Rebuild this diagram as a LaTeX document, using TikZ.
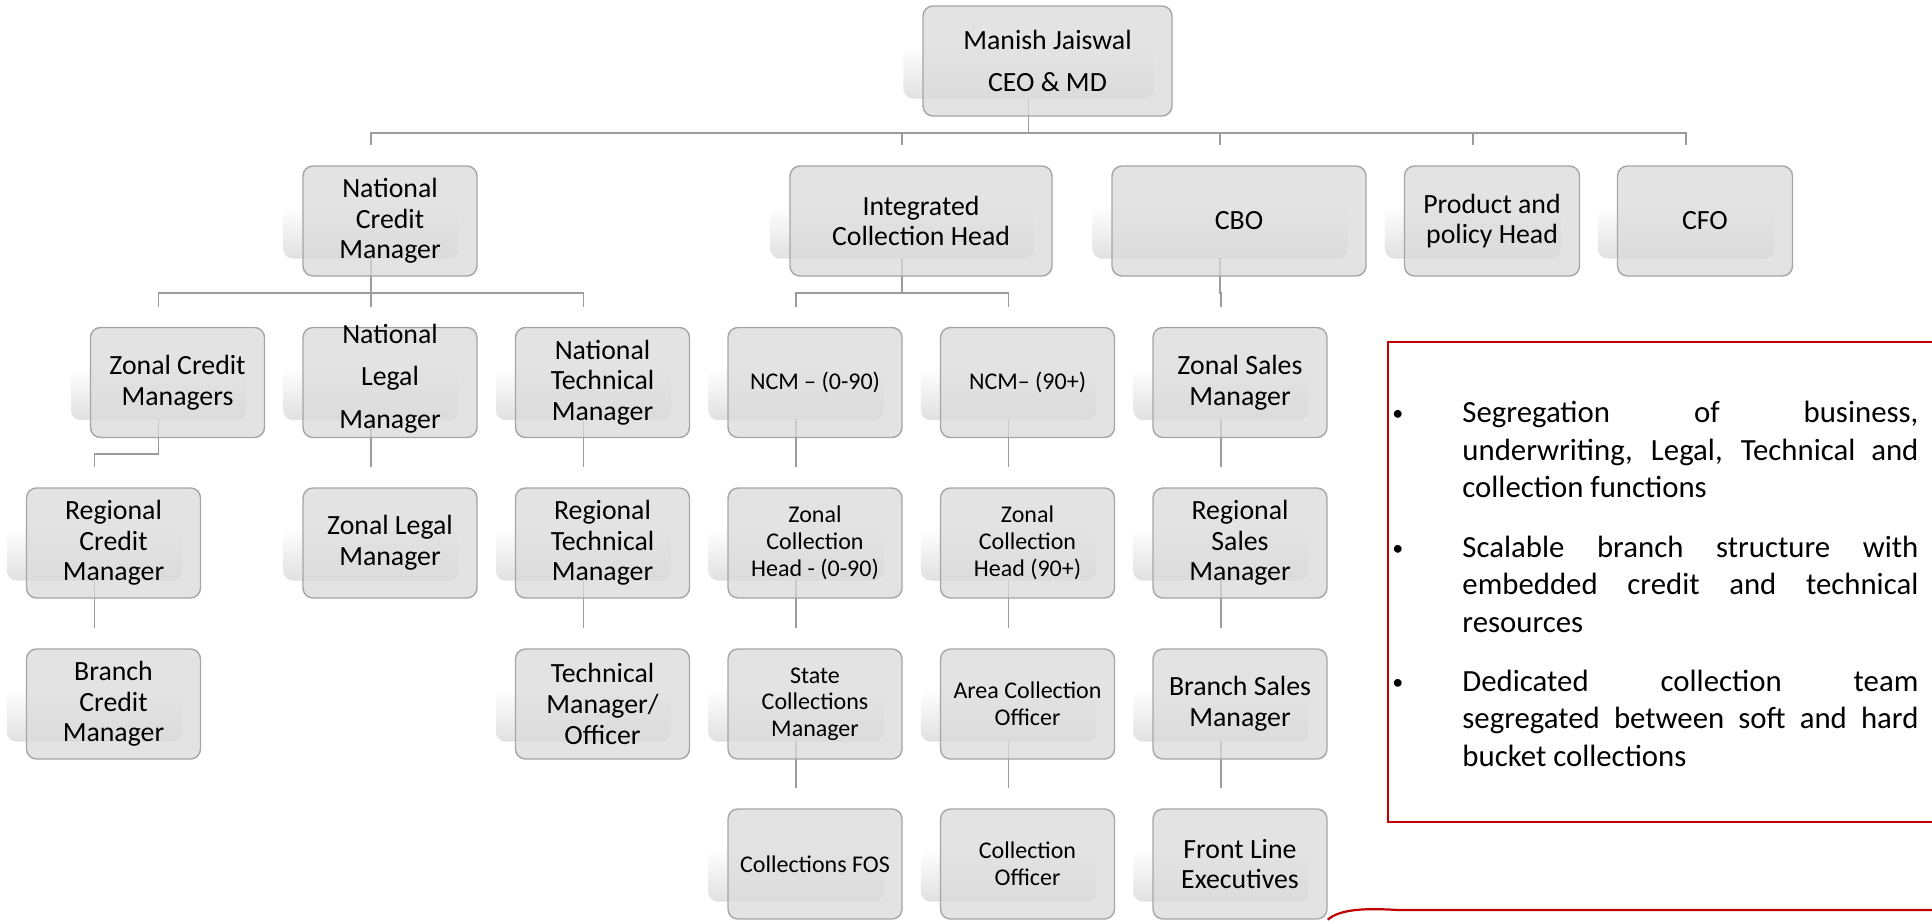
\documentclass[tikz,border=0pt]{standalone}
\usepackage{fontspec}
\setmainfont{Carlito}
\usetikzlibrary{calc}
\pgfdeclarelayer{bg}
\pgfsetlayers{bg,main}
\definecolor{boxfill}{HTML}{DADADA}
\definecolor{boxline}{HTML}{A5A5A5}
\definecolor{connline}{HTML}{9C9C9C}
\definecolor{redline}{HTML}{C00000}
\tikzset{
  orgbox/.style={draw=boxline, line width=0.7pt, fill=boxfill, fill opacity=0.75, text opacity=1,
    rounded corners=5pt, minimum width=87pt, minimum height=55pt, inner sep=1pt, align=center,
    font=\fontsize{13.9}{15.35}\selectfont},
  smalltext/.style={font=\fontsize{12}{13.35}\selectfont},
  conn/.style={draw=connline, line width=0.8pt},
  shadowbox/.style={top color=white, bottom color=black!12, rounded corners=5pt, draw=none},
  redframe/.style={draw=redline, line width=1.1pt},
}
\newcommand\orgshadow[1]{\shade[shadowbox] ($(#1.north west)+(-19,41)$) rectangle ($(#1.south east)+(-19,-18)$);}
\newcommand\orgedge[2]{\draw[conn] ($(#1.south)+(-19,-19)$) -- ($(#1.south)+(-19,16)$) -| ($(#2.north)+(-19,-20)$);}
\newcommand\notebullet{\leavevmode\llap{\makebox[35pt][l]{\fontsize{11}{11}\selectfont\raisebox{1pt}{•}}}}
\begin{document}
\begin{tikzpicture}[x=0.5pt, y=-0.5pt]
\useasboundingbox (0,0) rectangle (1932,921);
\clip (0,0) rectangle (1932,921);
% row 0
\node[orgbox, minimum width=124.5pt, font=\fontsize{13.9}{20.85}\selectfont] (ceo) at (1047.5,61) {Manish Jaiswal\\CEO \& MD};
% row 1
\node[orgbox] (ncm) at (390,221) {National\\Credit\\Manager};
\node[orgbox, minimum width=131pt] (ich) at (921,221) {Integrated\\Collection Head};
\node[orgbox, minimum width=127pt] (cbo) at (1239,221) {CBO};
\node[orgbox, minimum width=87.5pt] (pph) at (1492,221) {Product and\\policy Head};
\node[orgbox, minimum width=87.5pt] (cfo) at (1705,221) {CFO};
% row 2
\node[orgbox] (zcm) at (177.5,382.5) {Zonal Credit\\Managers};
\node[orgbox] (nlm) at (390,382.5) {\raisebox{-3pt}{\smash{\parbox[c]{80pt}{\centering\fontsize{13.9}{21.25}\selectfont National\\Legal\\Manager}}}};
\node[orgbox] (ntm) at (602.5,382.5) {National\\Technical\\Manager};
\node[orgbox, smalltext] (nc0) at (815,382.5) {NCM – (0-90)};
\node[orgbox, smalltext] (nc9) at (1027.5,382.5) {NCM– (90+)};
\node[orgbox] (zsm) at (1240,382.5) {Zonal Sales\\Manager};
% row 3
\node[orgbox] (rcm) at (113.5,543) {Regional\\Credit\\Manager};
\node[orgbox] (zlm) at (390,543) {Zonal Legal\\Manager};
\node[orgbox] (rtm) at (602.5,543) {Regional\\Technical\\Manager};
\node[orgbox, smalltext] (zc0) at (815,543) {Zonal\\Collection\\Head - (0-90)};
\node[orgbox, smalltext] (zc9) at (1027.5,543) {Zonal\\Collection\\Head (90+)};
\node[orgbox] (rsm) at (1240,543) {Regional\\Sales\\Manager};
% row 4
\node[orgbox] (bcm) at (113.5,704) {Branch\\Credit\\Manager};
\node[orgbox] (tmo) at (602.5,704) {Technical\\Manager/\\Officer};
\node[orgbox, smalltext] (scm) at (815,704) {State\\Collections\\Manager};
\node[orgbox, smalltext] (aco) at (1027.5,704) {Area Collection\\Officer};
\node[orgbox] (bsm) at (1240,704) {Branch Sales\\Manager};
% row 5
\node[orgbox, smalltext] (fos) at (815,864) {Collections FOS};
\node[orgbox, smalltext] (col) at (1027.5,864) {Collection\\Officer};
\node[orgbox] (fle) at (1240,864) {Front Line\\Executives};

\begin{pgfonlayer}{bg}
  \foreach \n in {ceo,ncm,ich,cbo,pph,cfo,zcm,nlm,ntm,nc0,nc9,zsm,rcm,zlm,rtm,zc0,zc9,rsm,bcm,tmo,scm,aco,bsm,fos,col,fle}
    {\orgshadow{\n}}
  \foreach \c in {ncm,ich,cbo,pph,cfo} {\orgedge{ceo}{\c}}
  \foreach \c in {zcm,nlm,ntm} {\orgedge{ncm}{\c}}
  \foreach \c in {nc0,nc9} {\orgedge{ich}{\c}}
  \orgedge{cbo}{zsm}
  \orgedge{zcm}{rcm}
  \orgedge{nlm}{zlm}
  \orgedge{ntm}{rtm}
  \orgedge{nc0}{zc0}
  \orgedge{nc9}{zc9}
  \orgedge{zsm}{rsm}
  \orgedge{rcm}{bcm}
  \orgedge{rtm}{tmo}
  \orgedge{zc0}{scm}
  \orgedge{zc9}{aco}
  \orgedge{rsm}{bsm}
  \orgedge{scm}{fos}
  \orgedge{aco}{col}
  \orgedge{bsm}{fle}
\end{pgfonlayer}

% notes frame
\node[redframe, anchor=north west, minimum width=281pt, minimum height=240pt, inner sep=0pt] (frame) at (1387,341) {};
\node[anchor=north west, inner sep=0pt, text width=228pt, align=justify, font=\fontsize{15.4}{18.75}\selectfont] (notes) at (1462,401) {%
\hyphenpenalty=10000 \exhyphenpenalty=10000 \tolerance=9999 \parskip=10.9pt \parindent=0pt
\notebullet Segregation of business, underwriting, Legal, Technical and collection functions\par
\notebullet Scalable branch structure with embedded credit and technical resources\par
\notebullet Dedicated collection team segregated between soft and hard bucket collections\par};
\coordinate (redend) at (1950,910);
\draw[redframe] (fle.south east) .. controls (1340,909) and (1365,908) .. (1398,910) -- (redend);
\end{tikzpicture}
\end{document}
